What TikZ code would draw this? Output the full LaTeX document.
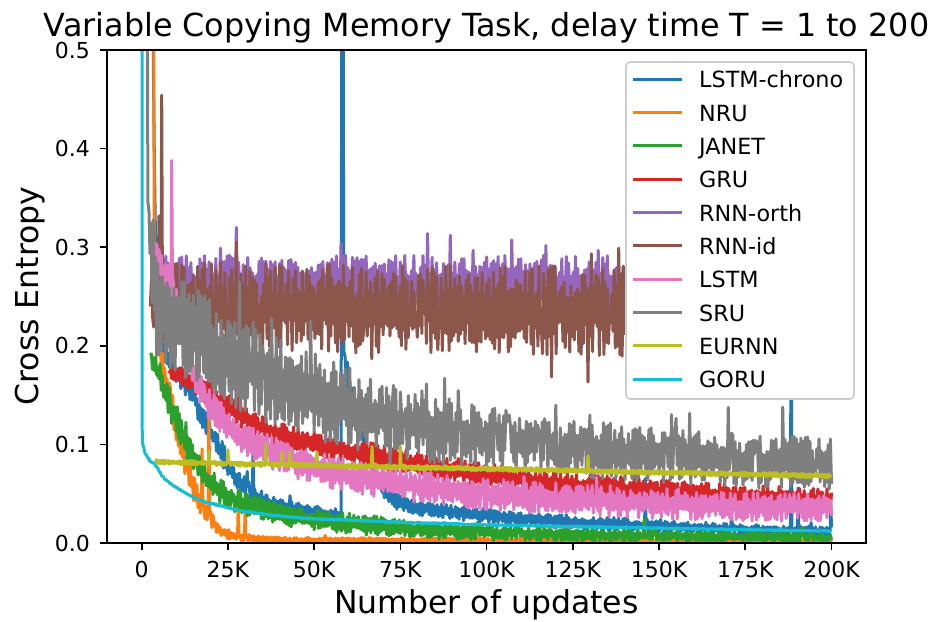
\documentclass[tikz,border=0pt]{standalone}
\usepackage{fontspec}
\setmainfont{DejaVu Sans}
\definecolor{cA}{HTML}{1F77B4}
\definecolor{cB}{HTML}{FF7F0E}
\definecolor{cC}{HTML}{2CA02C}
\definecolor{cD}{HTML}{D62728}
\definecolor{cE}{HTML}{9467BD}
\definecolor{cF}{HTML}{8C564B}
\definecolor{cG}{HTML}{E377C2}
\definecolor{cH}{HTML}{7F7F7F}
\definecolor{cI}{HTML}{BCBD22}
\definecolor{cJ}{HTML}{17BECF}
\definecolor{legedge}{HTML}{CCCCCC}
\newcommand\SetSpikes[4]{\gdef\SpU{#1}\gdef\SaU{#2}\gdef\SpD{#3}\gdef\SaD{#4}}
\newcommand\NoisyCurve[3]{%
  \gdef\CurvePts{}\gdef\CurveFirst{1}%
  \foreach \xa/\ya/\aa in {#3} {%
    \ifnum\CurveFirst=1\relax
      \xdef\CurvePts{(\xa,\ya)}\gdef\CurveFirst{0}%
    \else
      \pgfmathtruncatemacro\nseg{max(1,round((\xa-\Xp)/#2))}%
      \foreach \k in {1,...,\nseg} {%
        \pgfmathsetmacro\cvt{\k/\nseg}%
        \pgfmathsetmacro\cvs{2*mod(\k,2)-1}%
        \pgfmathsetmacro\cvx{\Xp+\cvt*(\xa-\Xp)}%
        \pgfmathsetmacro\cvy{\Yp+\cvt*(\ya-\Yp)+\cvs*(\Ap+\cvt*(\aa-\Ap))*(0.25+0.75*rnd)+(rnd<\SpU)*\SaU*rnd-(rnd<\SpD)*\SaD*rnd}%
        \xdef\CurvePts{\CurvePts -- (\cvx,\cvy)}%
      }%
    \fi
    \xdef\Xp{\xa}\xdef\Yp{\ya}\xdef\Ap{\aa}%
  }%
  \def\CurveDraw{\draw[#1]}%
  \expandafter\CurveDraw\CurvePts;%
}
\tikzset{
  tickfont/.style={font=\fontsize{22}{26}\selectfont},
  legfont/.style={font=\fontsize{22.3}{26}\selectfont},
  labfont/.style={font=\fontsize{31.5}{36}\selectfont},
  titfont/.style={font=\fontsize{31.8}{36}\selectfont},
  spine/.style={line width=1.6pt, black},
  datum/.style={line width=3pt, line join=round}
}
\begin{document}
\begin{tikzpicture}[x=1pt,y=1pt]
\useasboundingbox (0,0) rectangle (939,621);
\pgfmathsetseed{12345}
\begin{scope}
\clip (107,78) rectangle (866,571);
\begin{scope}[shift={(141.7pt,78pt)},x=3.449pt,y=986pt]
% LSTM-chrono
\SetSpikes{0.03}{0.008}{0}{0}
\NoisyCurve{datum,cA}{0.33}{0/0.6/0, 3/0.6/0, 4/0.3/0.014, 6/0.2/0.014, 10/0.17/0.01, 12/0.165/0.011, 15/0.148/0.013, 18/0.125/0.014, 21/0.105/0.014, 25/0.08/0.012, 28/0.062/0.011, 30.4/0.056/0.01, 30.6/0.072/0.002, 30.8/0.055/0.01, 32.1/0.05/0.009, 32.3/0.107/0.002, 32.5/0.05/0.009, 36/0.042/0.008, 42.8/0.035/0.007, 43/0.047/0.002, 43.2/0.035/0.007, 50/0.031/0.007, 57.8/0.028/0.006, 58/0.6/0, 58.4/0.6/0, 58.6/0.185/0.014, 61/0.15/0.016, 63/0.12/0.012, 66/0.085/0.011, 69/0.058/0.01, 72/0.045/0.009, 80/0.036/0.009, 90/0.031/0.008, 105/0.026/0.008, 130/0.02/0.007, 145.8/0.018/0.007, 146/0.065/0.002, 146.2/0.018/0.007, 170.8/0.014/0.006, 171/0.03/0.002, 171.2/0.014/0.006, 188.1/0.012/0.006, 188.3/0.3/0, 188.5/0.012/0.006, 190.1/0.012/0.006, 190.3/0.055/0.002, 190.5/0.012/0.006, 199.6/0.01/0.006, 199.8/0.037/0.002, 200/0.01/0.006}
% NRU
\SetSpikes{0.01}{0.008}{0}{0}
\NoisyCurve{datum,cB}{0.33}{0/0.6/0, 3.5/0.6/0, 3.6/0.28/0.014, 5/0.2/0.016, 8/0.15/0.016, 10/0.12/0.016, 12.5/0.085/0.016, 15/0.057/0.014, 17.3/0.037/0.011, 17.5/0.095/0.002, 17.7/0.036/0.011, 19.3/0.027/0.008, 19.5/0.145/0.002, 19.7/0.026/0.008, 23/0.011/0.006, 27.8/0.006/0.004, 28/0.04/0.002, 28.2/0.006/0.004, 29.8/0.005/0.004, 30/0.035/0.002, 30.2/0.005/0.004, 40/0.003/0.003, 200/0.002/0.002}
% JANET
\SetSpikes{0.02}{0.015}{0}{0}
\NoisyCurve{datum,cC}{0.33}{2.5/0.19/0.011, 5/0.172/0.014, 8/0.142/0.016, 10/0.125/0.016, 12.5/0.105/0.016, 15/0.087/0.015, 18/0.07/0.014, 20/0.06/0.014, 25/0.047/0.013, 30/0.039/0.012, 40/0.029/0.011, 50/0.023/0.011, 75/0.015/0.01, 100/0.01/0.008, 150/0.007/0.006, 200/0.005/0.005}
% GRU
\SetSpikes{0.02}{0.01}{0}{0}
\NoisyCurve{datum,cD}{0.33}{8/0.172/0.008, 12/0.17/0.011, 15/0.163/0.013, 20/0.15/0.013, 25/0.138/0.013, 30/0.126/0.013, 35/0.116/0.013, 45/0.105/0.013, 55/0.097/0.013, 75/0.083/0.013, 100/0.068/0.013, 130/0.057/0.013, 160/0.05/0.012, 200/0.043/0.012}
% RNN-orth
\SetSpikes{0.05}{0.035}{0}{0}
\NoisyCurve{datum,cE}{0.33}{3.5/0.25/0.014, 6/0.262/0.03, 200/0.262/0.03}
% RNN-id
\SetSpikes{0.02}{0.03}{0.08}{0.05}
\NoisyCurve{datum,cF}{0.33}{2.5/0.24/0.04, 4.8/0.24/0.04, 5.0/0.33/0.002, 5.2/0.24/0.04, 5.6/0.24/0.04, 5.8/0.453/0.002, 6.0/0.24/0.045, 200/0.233/0.046}
% LSTM
\SetSpikes{0.02}{0.015}{0}{0}
\NoisyCurve{datum,cG}{0.33}{3.5/0.3/0.014, 6/0.27/0.021, 8.5/0.265/0.021, 8.7/0.386/0.002, 8.9/0.26/0.021, 10/0.24/0.02, 12/0.21/0.018, 15/0.172/0.017, 18/0.15/0.017, 22/0.13/0.017, 25/0.118/0.017, 30/0.105/0.017, 40/0.088/0.017, 50/0.076/0.017, 60/0.068/0.017, 75/0.06/0.017, 100/0.049/0.017, 125/0.044/0.016, 150/0.04/0.016, 175/0.037/0.015, 200/0.036/0.015}
% SRU
\SetSpikes{0.08}{0.045}{0.03}{0.015}
\NoisyCurve{datum,cH}{0.33}{0.3/0.6/0, 1.6/0.6/0, 1.8/0.34/0.014, 3/0.27/0.07, 5/0.235/0.05, 10/0.222/0.05, 20/0.2/0.05, 30/0.18/0.05, 40/0.163/0.048, 50/0.148/0.045, 60/0.137/0.042, 75/0.122/0.038, 100/0.106/0.032, 125/0.096/0.03, 150/0.088/0.028, 175/0.083/0.027, 200/0.08/0.027}
% EURNN
\SetSpikes{0}{0}{0}{0}
\NoisyCurve{datum,cI}{0.33}{4/0.082/0.0025, 19.3/0.081/0.0025, 19.5/0.092/0.001, 19.7/0.081/0.0025, 24.8/0.0805/0.0025, 25/0.094/0.001, 25.2/0.0805/0.0025, 35.8/0.0797/0.0025, 36/0.1/0.001, 36.2/0.0797/0.0025, 40.5/0.0794/0.0025, 40.7/0.092/0.001, 40.9/0.0794/0.0025, 42.8/0.0792/0.0025, 43/0.092/0.001, 43.2/0.0792/0.0025, 50.6/0.0787/0.0025, 50.8/0.092/0.001, 51/0.0787/0.0025, 66.6/0.0775/0.0025, 66.8/0.097/0.001, 67/0.0775/0.0025, 74.8/0.0769/0.0025, 75/0.097/0.001, 75.2/0.0769/0.0025, 129.2/0.073/0.0025, 129.4/0.088/0.001, 129.6/0.073/0.0025, 200/0.068/0.0025}
% GORU
\SetSpikes{0}{0}{0}{0}
\NoisyCurve{datum,cJ}{0.33}{0.1/0.6/0, 0.1/0.12/0, 0.3/0.1/0.0005, 1/0.091/0.0008, 2.4/0.083/0.0008, 3.5/0.081/0.0008, 4.4/0.077/0.0008, 6/0.067/0.0008, 8.8/0.059/0.0008, 13.5/0.049/0.0008, 18/0.042/0.0008, 28/0.033/0.0008, 38/0.028/0.0008, 47/0.025/0.0008, 75/0.021/0.0008, 104/0.018/0.0008, 150/0.015/0.0008, 200/0.012/0.0008}
\end{scope}
\end{scope}
% axes frame
\draw[spine] (107,78) rectangle (866,571);
% x ticks
\foreach \v/\l in {0/0,25/25K,50/50K,75/75K,100/100K,125/125K,150/150K,175/175K,200/200K} {
  \draw[spine] ({141.7+3.449*\v},78) -- ++(0,-7);
  \node[tickfont,anchor=base,inner sep=0pt] (xt\v) at ({141.7+3.449*\v},44) {\l};
}
% y ticks
\foreach \v/\l in {0/0.0,1/0.1,2/0.2,3/0.3,4/0.4,5/0.5} {
  \draw[spine] (107,{78+98.6*\v}) -- ++(-7,0);
  \node[tickfont,anchor=east,inner sep=0pt] (yt\v) at (90,{78+98.6*\v}) {\l};
}
% legend
\draw[legedge, line width=1.6pt, fill=white, rounded corners=4pt] (626,222) rectangle (854,559);
\foreach \c/\t [count=\i from 0] in {cA/LSTM-chrono,cB/NRU,cC/JANET,cD/GRU,cE/RNN-orth,cF/RNN-id,cG/LSTM,cH/SRU,cI/EURNN,cJ/GORU} {
  \draw[\c, line width=3pt] (633,{541.7-33.33*\i}) -- (682,{541.7-33.33*\i});
  \node[legfont,anchor=base west,inner sep=0pt] (lg\i) at (699,{533.3-33.33*\i}) {\t};
}
% labels
\node[titfont,anchor=base,inner sep=0pt] (title) at (486.5,584.3) {Variable Copying Memory Task, delay time T = 1 to 200};
\node[labfont,anchor=base,inner sep=0pt] (xlab) at (486.5,8) {Number of updates};
\node[labfont,rotate=90,inner sep=0pt] (ylab) at (30,325) {Cross Entropy};
\end{tikzpicture}
\end{document}
